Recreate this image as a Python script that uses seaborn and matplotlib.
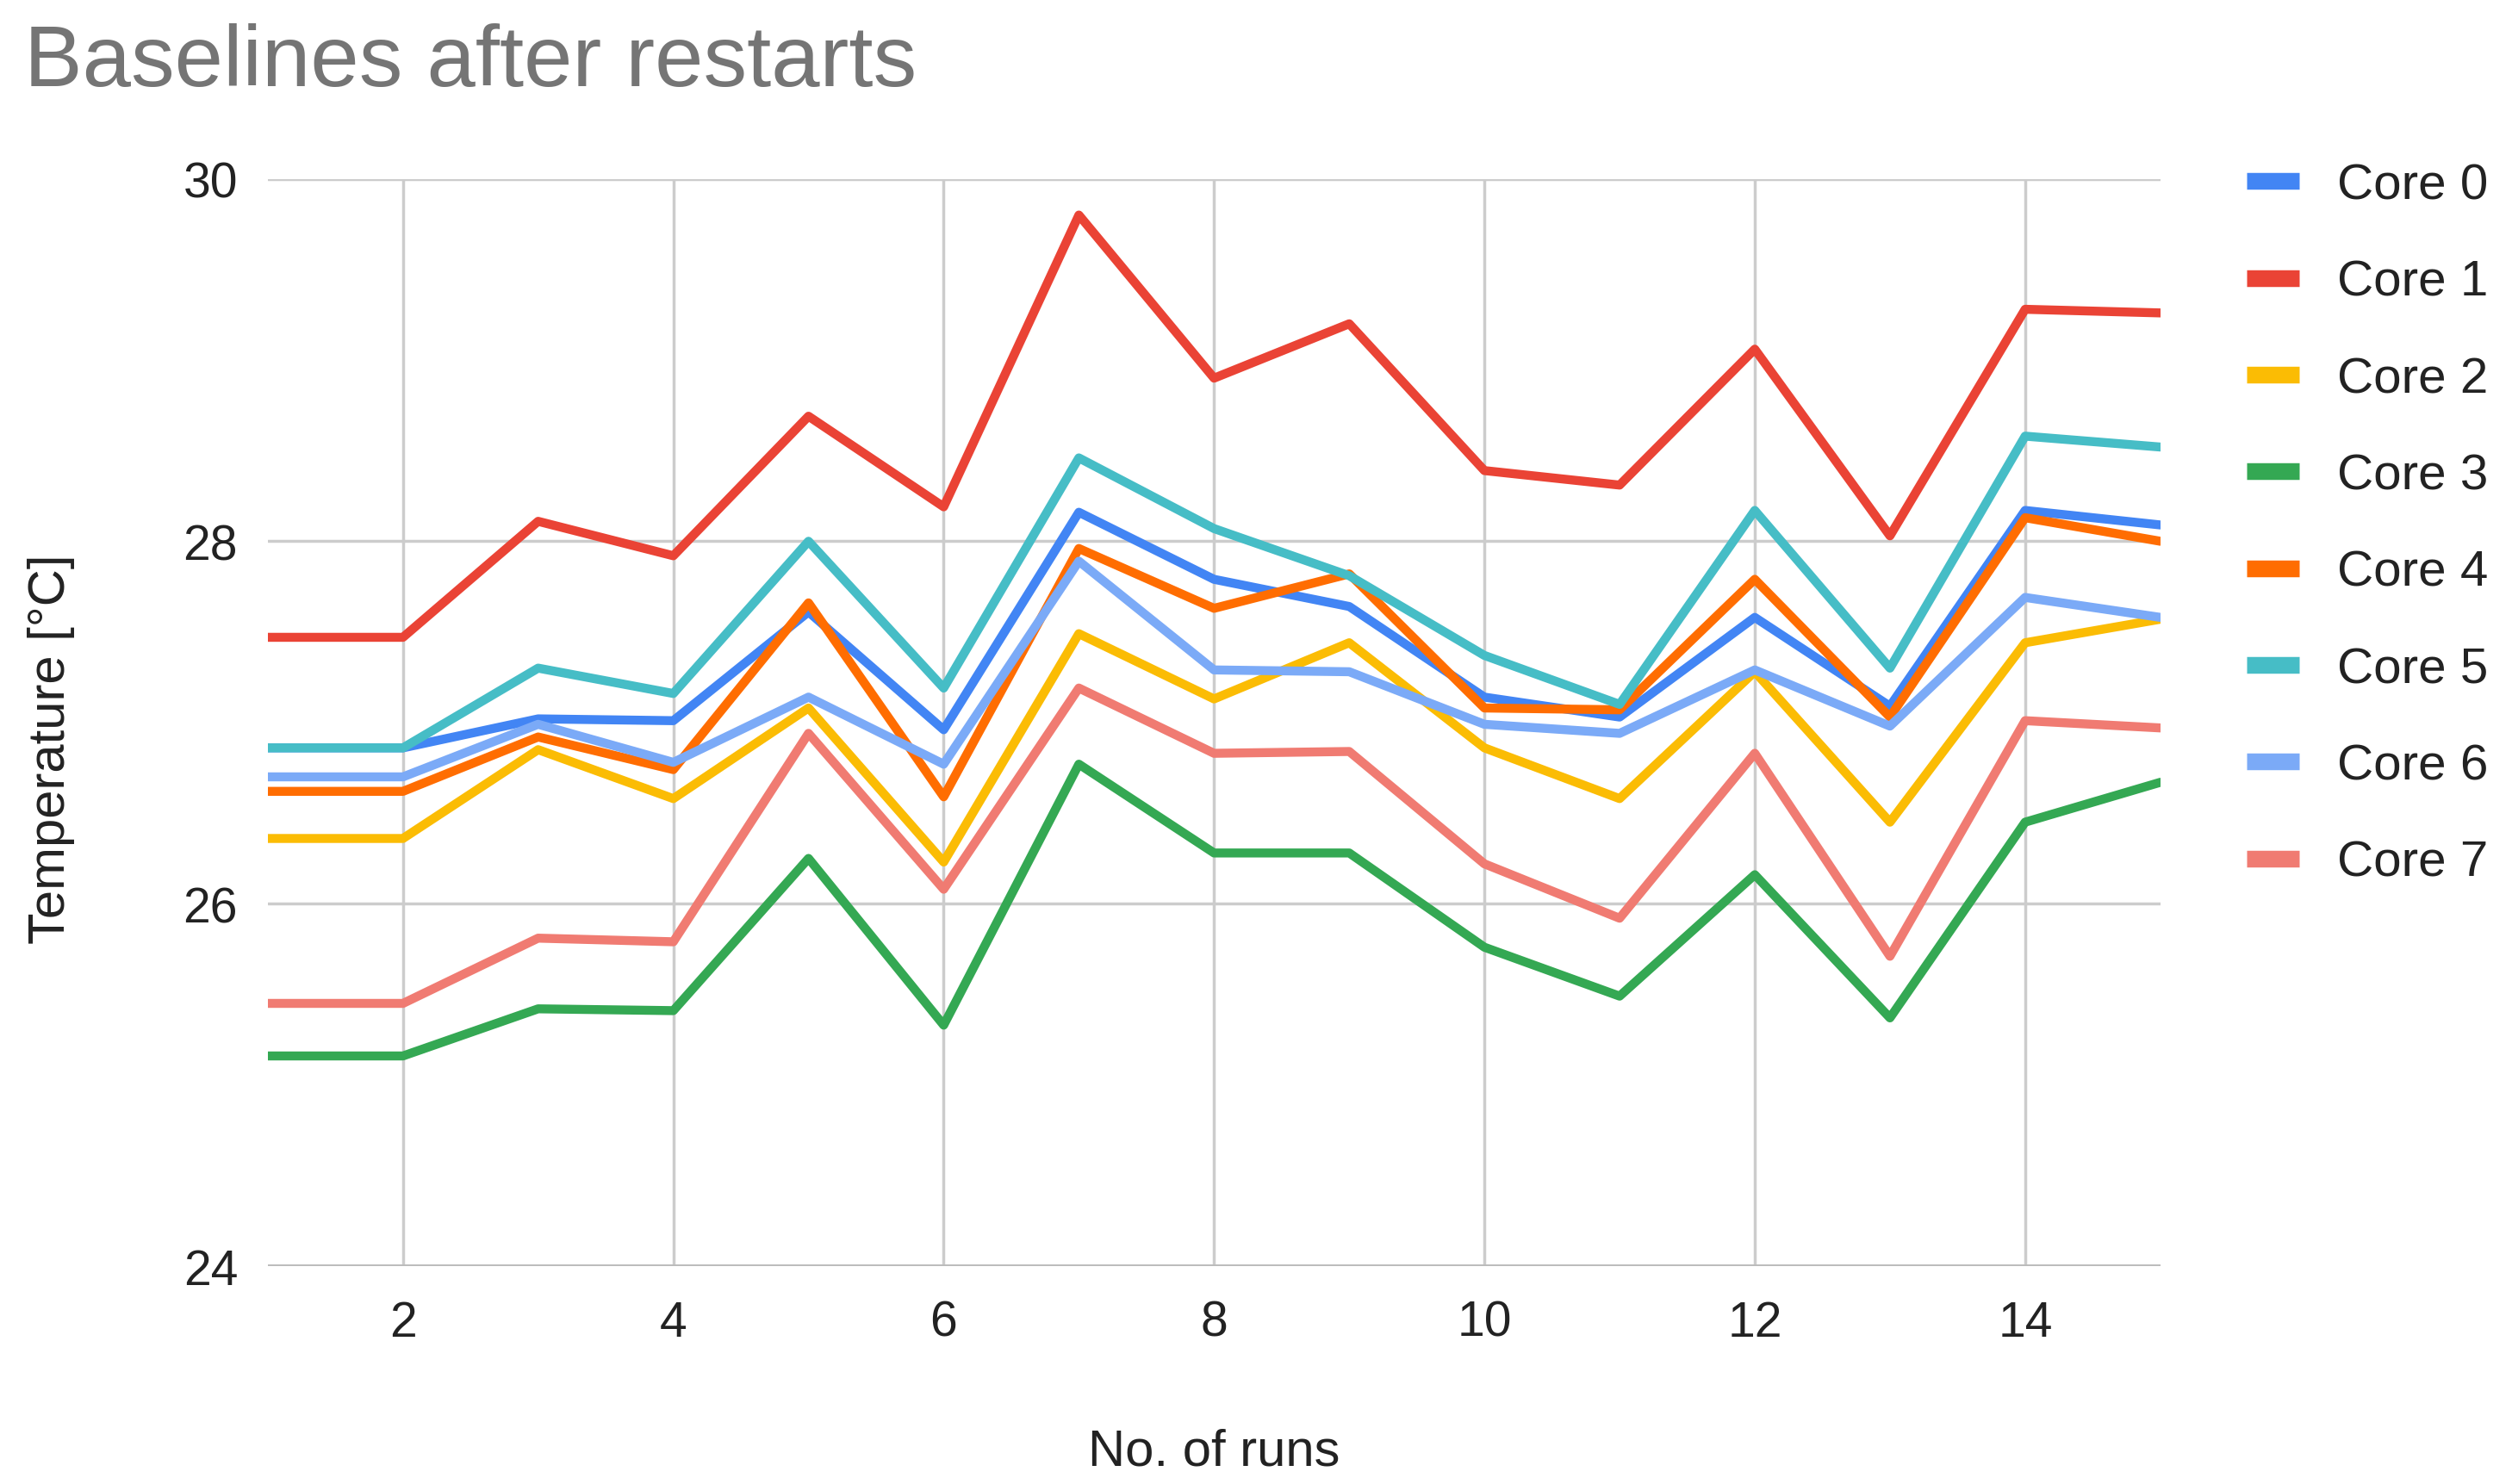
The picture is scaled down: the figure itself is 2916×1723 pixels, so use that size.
import matplotlib
matplotlib.use("Agg")
from matplotlib import pyplot as plt
import seaborn as sns
import pandas as pd

runs = list(range(1, 16))

core_0 = [26.86, 26.86, 27.02, 27.01, 27.61, 26.96, 28.16, 27.79, 27.64, 27.14, 27.03, 27.58, 27.09, 28.17, 28.09]
core_1 = [27.47, 27.47, 28.11, 27.92, 28.69, 28.19, 29.80, 28.90, 29.20, 28.39, 28.31, 29.06, 28.03, 29.28, 29.26]
core_2 = [26.36, 26.36, 26.85, 26.58, 27.08, 26.23, 27.49, 27.13, 27.44, 26.86, 26.58, 27.28, 26.45, 27.44, 27.57]
core_3 = [25.16, 25.16, 25.42, 25.41, 26.25, 25.33, 26.77, 26.28, 26.28, 25.76, 25.49, 26.16, 25.37, 26.45, 26.67]
core_4 = [26.62, 26.62, 26.92, 26.74, 27.66, 26.59, 27.96, 27.63, 27.82, 27.08, 27.07, 27.79, 27.03, 28.13, 28.00]
core_5 = [26.86, 26.86, 27.30, 27.16, 28.00, 27.19, 28.46, 28.07, 27.81, 27.37, 27.10, 28.17, 27.30, 28.58, 28.52]
core_6 = [26.70, 26.70, 26.99, 26.78, 27.14, 26.77, 27.89, 27.29, 27.28, 26.99, 26.94, 27.29, 26.98, 27.69, 27.58]
core_7 = [25.45, 25.45, 25.81, 25.79, 26.94, 26.08, 27.19, 26.83, 26.84, 26.22, 25.92, 26.83, 25.71, 27.01, 26.97]

core_names = ["Core 0", "Core 1", "Core 2", "Core 3", "Core 4", "Core 5", "Core 6", "Core 7"]
core_values = [core_0, core_1, core_2, core_3, core_4, core_5, core_6, core_7]
colors = ["#4285F4", "#EA4335", "#FBBC04", "#34A853", "#FF6D01", "#46BDC6", "#7BAAF7", "#F07B72"]

x_ticks = [2, 4, 6, 8, 10, 12, 14]
y_ticks = [24, 26, 28, 30]

rows = []
for name, vals in zip(core_names, core_values):
    for r, v in zip(runs, vals):
        rows.append({"run": r, "temp": v, "core": name})
df = pd.DataFrame(rows)

sns.set_style("white")
plt.rcParams["font.family"] = ["Liberation Sans", "DejaVu Sans"]

fig = plt.figure(figsize=(29.16, 17.24), dpi=100)
ax = fig.add_axes([0.1066, 0.1467, 0.7534, 0.7323])

sns.lineplot(data=df, x="run", y="temp", hue="core", palette=colors,
             linewidth=7.5, ax=ax, legend=False, zorder=3)

ax.set_xlim(1, 15)
ax.set_ylim(24, 30)
ax.set_xticks(x_ticks)
ax.set_yticks(y_ticks)
ax.grid(True, color="#cccccc", linewidth=2.5, zorder=0)
for s in ax.spines.values():
    s.set_visible(False)
ax.axhline(24, color="#bbbbbb", linewidth=3.5, zorder=1)
ax.tick_params(axis="both", length=0, labelsize=41, labelcolor="#222222")
ax.tick_params(axis="y", pad=25)
ax.tick_params(axis="x", pad=28)

ax.set_xlabel("No. of runs", fontsize=43, color="#222222", labelpad=68)
ax.set_ylabel("Temperature [°C]", fontsize=43, color="#222222")
ax.yaxis.set_label_coords(-0.102, 0.476)

fig.text(0.0096, 0.957, "Baselines after restarts", fontsize=73, color="#757575",
         ha="left", va="center")

handles = [plt.Line2D([], [], color=c, linewidth=14, solid_capstyle="butt") for c in colors]
fig.legend(handles, core_names, loc="upper left", bbox_to_anchor=(0.8944, 0.890),
           frameon=False, fontsize=42, handlelength=1.05, handletextpad=0.75,
           labelspacing=1.0, borderpad=0, borderaxespad=0, labelcolor="#222222")

fig.savefig("out.png", dpi=100)
